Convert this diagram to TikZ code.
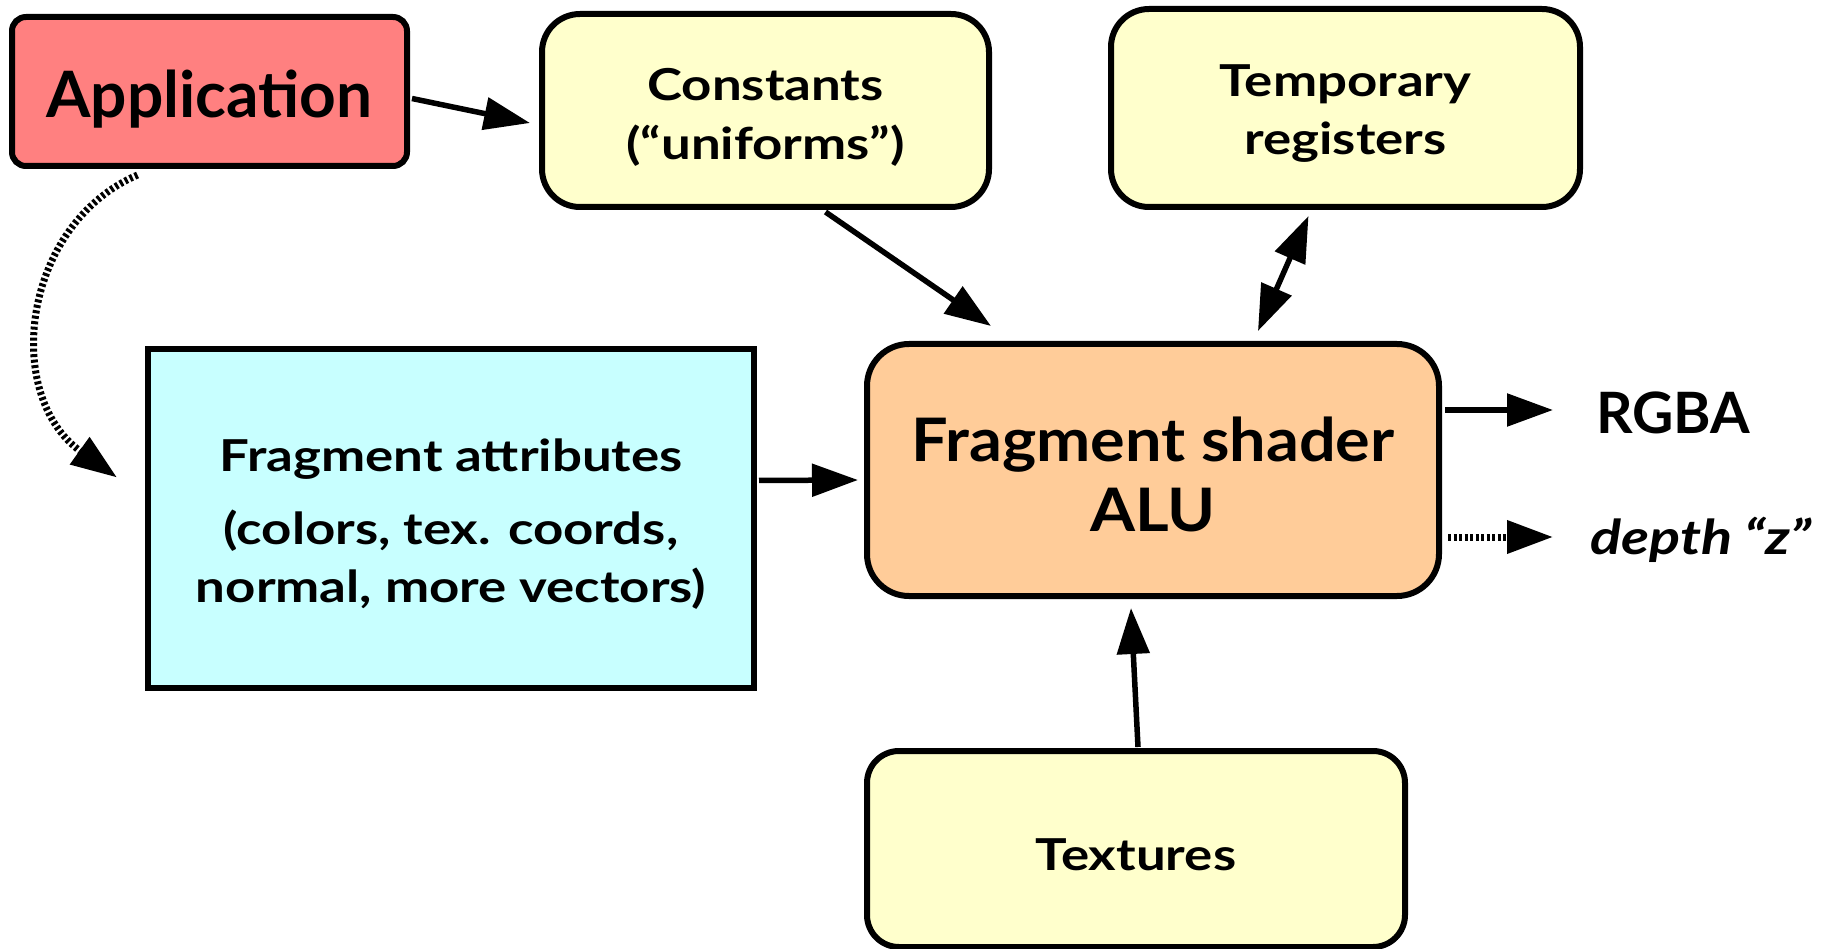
\documentclass[tikz,border=0pt]{standalone}
\usepackage{fontspec}
\setmainfont{Lato}[BoldFont={* Bold}, BoldItalicFont={* Bold Italic}]
\newfontfamily\widefont{Lato}[FakeStretch=1.2, BoldFont={* Bold}, BoldItalicFont={* Bold Italic}]
\newfontfamily\midfont{Lato}[FakeStretch=1.08, BoldFont={* Bold}]
\usetikzlibrary{arrows.meta,calc}
\definecolor{appred}{HTML}{FF8080}
\definecolor{paleyellow}{HTML}{FFFFCC}
\definecolor{palecyan}{HTML}{C8FFFF}
\definecolor{peach}{HTML}{FFCC99}
\tikzset{
  box/.style={draw=black, line width=6pt, inner sep=0pt},
  roundbox/.style={box, rounded corners=#1},
  lbl/.style={align=center, inner sep=0pt},
  conn/.style={line width=5.5pt, -{Triangle[length=46pt,width=32pt]}},
  dualconn/.style={line width=5.5pt, {Triangle[length=46pt,width=32pt]}-{Triangle[length=46pt,width=32pt]}},
  dotconn/.style={conn, line width=7pt, dash pattern=on 3pt off 2.5pt},
}
\newcommand{\fs}[2]{\fontsize{#1}{#2}\selectfont}
\begin{document}
\begin{tikzpicture}[x=1pt,y=-1pt]
  \useasboundingbox (0,0) rectangle (1824,949);

  % boxes
  \node[roundbox=14pt, fill=appred, minimum width=395pt, minimum height=149pt] (app) at (209.5,91.5) {};
  \node[roundbox=38pt, fill=paleyellow, minimum width=447pt, minimum height=193pt] (const) at (765.5,110.5) {};
  \node[roundbox=38pt, fill=paleyellow, minimum width=469pt, minimum height=198pt] (temp) at (1345.5,108) {};
  \node[box, fill=palecyan, minimum width=606pt, minimum height=339pt] (attr) at (451,518.5) {};
  \node[roundbox=42pt, fill=peach, minimum width=572pt, minimum height=252pt] (alu) at (1153,470) {};
  \node[roundbox=32pt, fill=paleyellow, minimum width=538pt, minimum height=196pt] (tex) at (1136,849) {};

  % box labels
  \node[lbl, font=\bfseries\fs{64}{74}] (applbl) at ($(app.center)+(0,8)$) {Application};
  \node[lbl, font=\widefont\bfseries\fs{44}{59}] (constlbl) at ($(const.center)+(0,7)$) {Constants\\(“uniforms”)};
  \node[lbl, font=\widefont\bfseries\fs{44}{58}] (templbl) at ($(temp.center)+(0,6)$) {Temporary\\registers};
  \node[lbl, font=\widefont\bfseries\fs{44}{58}] (attrlbl) at ($(attr.center)+(0,6)$)
        {Fragment attributes\\[15pt](colors, tex. coords,\\normal, more vectors)};
  \node[lbl, font=\midfont\bfseries\fs{60}{70}] (alulbl) at ($(alu.center)+(0,4)$) {Fragment shader\\ALU};
  \node[lbl, font=\widefont\bfseries\fs{44}{58}] (texlbl) at ($(tex.center)+(0,6)$) {Textures};

  % outputs
  \node[anchor=west, inner sep=0pt, font=\bfseries\fs{57}{66}] (rgba) at (1596,413) {RGBA};
  \node[anchor=west, inner sep=0pt, font=\widefont\bfseries\itshape\fs{48}{58}] (depth) at (1590,540) {depth “z”};

  % connectors
  \draw[conn] ($(app.east)+(2,7)$) -- ($(const.west)+(-9,12.5)$);
  \draw[dotconn] ($(app.south)+(-72,6)$) .. controls (22,225) and (2,395) .. ($(attr.west)+(-28,-41)$);
  \draw[conn] ($(const.south)+(60,2)$) -- ($(alu.north)+(-162,-15)$);
  \draw[dualconn] ($(temp.south)+(-37,6)$) -- ($(alu.north)+(105,-10)$);
  \draw[conn] ($(attr.east)+(2,-38)$) -- ($(alu.west)+(-6,10)$);
  \draw[conn] ($(alu.east)+(3,-60)$) -- ($(rgba.west)+(-43,-3)$);
  \draw[dotconn] ($(alu.east)+(6,67)$) -- ($(depth.west)+(-37,-3)$);
  \draw[conn] ($(tex.north)+(2,-1)$) -- ($(alu.south)+(-22,9)$);
\end{tikzpicture}
\end{document}
